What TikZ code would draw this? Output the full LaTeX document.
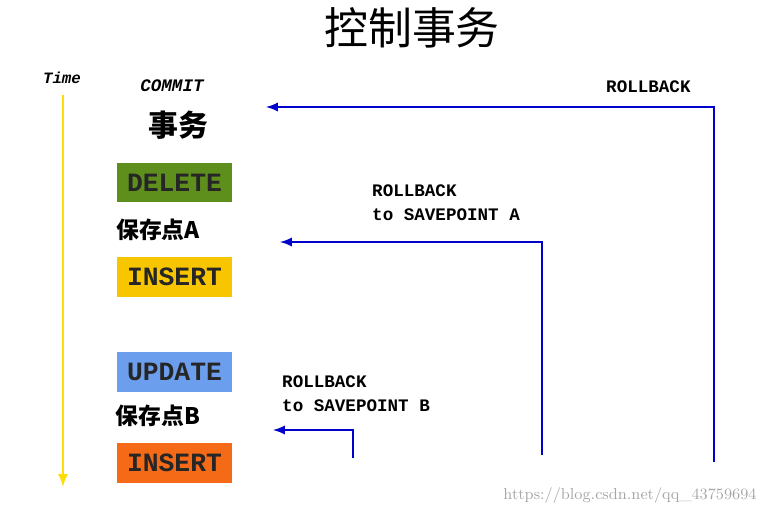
\documentclass[tikz,border=0pt]{standalone}
\usepackage{fontspec}
\setmonofont{Liberation Mono}
\newfontfamily\cjk{Noto Sans CJK SC}
\definecolor{cgreen}{HTML}{5E8F1C}
\definecolor{cyellow}{HTML}{F7C600}
\definecolor{cblue}{HTML}{6C9EEE}
\definecolor{corange}{HTML}{F56A16}
\begin{document}
\begin{tikzpicture}[x=0.02cm,y=-0.02cm,
  op/.style={minimum width=2.3cm,minimum height=0.8cm,inner sep=0pt,font=\ttfamily\bfseries\fontsize{15}{15}\selectfont,text=black!85},
  lbl/.style={font=\ttfamily\bfseries\fontsize{10}{13.5}\selectfont,anchor=west,align=left},
  rb/.style={draw=blue!80!black,line width=1.3pt,-latex}]
\useasboundingbox (0,0) rectangle (761,514);
\node (title) at (412,28) {\cjk\fontsize{25}{25}\selectfont 控制事务};
\node (time) at (62,78) {\ttfamily\bfseries\itshape\fontsize{9}{9}\selectfont Time};
\coordinate (t1) at (63,95); \coordinate (t2) at (63,487);
\draw[draw=yellow!80!orange,line width=1.5pt,-latex] (t1) -- (t2);
\node (commit) at (172,86) {\ttfamily\bfseries\itshape\fontsize{10}{10}\selectfont COMMIT};
\node (tx) at (178,125) {\cjk\bfseries\fontsize{17}{17}\selectfont 事务};
\node[op,fill=cgreen] (del) at (174.5,182.5) {DELETE};
\node (spa) at (158,230) {\cjk\bfseries\fontsize{13}{13}\selectfont 保存点A};
\node[op,fill=cyellow] (ins1) at (174.5,277) {INSERT};
\node[op,fill=cblue] (upd) at (174.5,371.5) {UPDATE};
\node (spb) at (158,416) {\cjk\bfseries\fontsize{13}{13}\selectfont 保存点B};
\node[op,fill=corange] (ins2) at (174.5,463) {INSERT};
\node[lbl] (rb1) at (600,87) {ROLLBACK};
\node[lbl] (rb2) at (366,203) {ROLLBACK\\to SAVEPOINT A};
\node[lbl] (rb3) at (276,394) {ROLLBACK\\to SAVEPOINT B};
\coordinate (a0) at (714,462); \coordinate (a1) at (714,107); \coordinate (a2) at (266,107);
\coordinate (b0) at (542,455); \coordinate (b1) at (542,242); \coordinate (b2) at (280,242);
\coordinate (c0) at (353,458); \coordinate (c1) at (353,430); \coordinate (c2) at (273,430);
\draw[rb] (a0) -- (a1) -- (a2);
\draw[rb] (b0) -- (b1) -- (b2);
\draw[rb] (c0) -- (c1) -- (c2);
\node[text=black!35,font=\fontsize{9}{9}\selectfont] (wm) at (630,496) {https://blog.csdn.net/qq\_43759694};
\end{tikzpicture}
\end{document}
